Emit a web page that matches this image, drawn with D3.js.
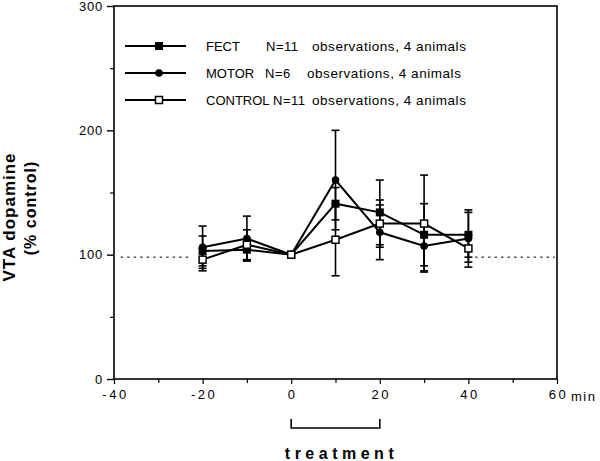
<!DOCTYPE html>
<html>
<head>
<meta charset="utf-8">
<script src="https://cdn.jsdelivr.net/npm/d3@7"></script>
<style>
  body { margin: 0; background: #fff; }
  svg { font-family: "Liberation Sans", Arial, sans-serif; }
</style>
</head>
<body>
<div id="chart"></div>
<script>
// values
const times = [-20, -10, 0, 10, 20, 30, 40];
const fectMean = [103, 104, 100, 141, 134, 116, 116];
const fectErr = [12, 9, 0, 13, 26, 25, 18];
const motorMean = [106, 113, 100, 160, 118, 107, 113];
const motorErr = [17, 18, 0, 40, 22, 20, 23];
const controlMean = [96, 108, 100, 112, 125, 125, 105];
const controlErr = [9, 12, 0, 29, 19, 39, 11];
const xTicks = [-40, -20, 0, 20, 40, 60];
const xMinor = [-30, -10, 10, 30, 50];
const yTicks = [0, 100, 200, 300];
const yMinor = [50, 150, 250];
const baseline = 98;

const series = [
  { name: "FECT", n: "N=11", nX: 266, obsX: 312, mean: fectMean, err: fectErr, marker: "fsquare" },
  { name: "MOTOR", n: "N=6", nX: 265, obsX: 307, mean: motorMean, err: motorErr, marker: "circle" },
  { name: "CONTROL", n: "N=11", nX: 273, obsX: 312, mean: controlMean, err: controlErr, marker: "osquare" }
];

const W = 600, H = 461;
const svg = d3.select("#chart").append("svg").attr("width", W).attr("height", H);

const x = d3.scaleLinear().domain([-40, 60]).range([114, 557]);
const y = d3.scaleLinear().domain([0, 300]).range([379, 6]);

// frame
svg.append("rect")
  .attr("x", x(-40)).attr("y", y(300))
  .attr("width", x(60) - x(-40)).attr("height", y(0) - y(300))
  .attr("fill", "none").attr("stroke", "#000").attr("stroke-width", 1.6);

// y axis
const yAxis = svg.append("g").attr("transform", `translate(${x(-40)},0)`)
  .call(d3.axisLeft(y).tickValues(yTicks).tickSize(7).tickPadding(4));
yAxis.select(".domain").remove();
yAxis.selectAll("line").attr("stroke-width", 1.4);
yAxis.selectAll("text").style("font-size", "13px").style("letter-spacing", "0.8px").attr("fill", "#000");
svg.append("g").attr("transform", `translate(${x(-40)},0)`)
  .call(d3.axisLeft(y).tickValues(yMinor).tickSize(4).tickFormat(""))
  .call(g => g.select(".domain").remove())
  .selectAll("line").attr("stroke-width", 1.2);

// x axis
const xAxis = svg.append("g").attr("transform", `translate(0,${y(0)})`)
  .call(d3.axisBottom(x).tickValues(xTicks).tickSize(5).tickPadding(6).tickFormat(d => String(d)));
xAxis.select(".domain").remove();
xAxis.selectAll("line").attr("stroke-width", 1.2);
xAxis.selectAll("text").style("font-size", "13px").style("letter-spacing", "2.5px")
  .attr("dx", "1px").attr("fill", "#000");
svg.append("g").attr("transform", `translate(0,${y(0)})`)
  .call(d3.axisBottom(x).tickValues(xMinor).tickSize(4).tickFormat(""))
  .call(g => g.select(".domain").remove())
  .selectAll("line").attr("stroke-width", 1.2);

svg.append("text").attr("x", 571).attr("y", 401)
  .style("font-size", "13px").style("letter-spacing", "1.5px").text("min");

// axis title
const yt = svg.append("g").attr("transform", "translate(0,214) rotate(-90)");
yt.append("text").attr("x", -3).attr("y", 15).attr("text-anchor", "middle")
  .style("font-size", "17px").style("font-weight", "bold").style("letter-spacing", "1px").text("VTA  dopamine");
yt.append("text").attr("x", 6).attr("y", 36).attr("text-anchor", "middle")
  .style("font-size", "16px").style("font-weight", "bold").style("letter-spacing", "1px").text("(%  control)");

// dotted baseline
[[-38.5, -22.5], [41.5, 59.5]].forEach(([a, b]) => {
  svg.append("line")
    .attr("x1", x(a)).attr("x2", x(b)).attr("y1", y(baseline)).attr("y2", y(baseline))
    .attr("stroke", "#000").attr("stroke-width", 1).attr("stroke-dasharray", "2.5,4");
});

// lines
const line = d3.line().x((d, i) => x(times[i])).y(d => y(d));
series.forEach(s => {
  svg.append("path").attr("d", line(s.mean))
    .attr("fill", "none").attr("stroke", "#000").attr("stroke-width", 2);
});

// error bars
series.forEach(s => {
  const g = svg.append("g").attr("stroke", "#000").attr("stroke-width", 1.6);
  s.mean.forEach((m, i) => {
    if (!s.err[i]) return;
    const cx = x(times[i]);
    g.append("line").attr("x1", cx).attr("x2", cx)
      .attr("y1", y(m + s.err[i])).attr("y2", y(m - s.err[i]));
    [m + s.err[i], m - s.err[i]].forEach(v => {
      g.append("line").attr("x1", cx - 4).attr("x2", cx + 4)
        .attr("y1", y(v)).attr("y2", y(v));
    });
  });
});

function drawMarker(g, type, cx, cy) {
  if (type === "circle") {
    g.append("circle").attr("cx", cx).attr("cy", cy).attr("r", 3.8).attr("fill", "#000");
  } else if (type === "fsquare") {
    g.append("rect").attr("x", cx - 4).attr("y", cy - 4).attr("width", 8).attr("height", 8).attr("fill", "#000");
  } else {
    g.append("rect").attr("x", cx - 3.5).attr("y", cy - 3.5).attr("width", 7).attr("height", 7)
      .attr("fill", "#fff").attr("stroke", "#000").attr("stroke-width", 1.5);
  }
}

// markers
series.forEach(s => {
  const g = svg.append("g");
  s.mean.forEach((m, i) => drawMarker(g, s.marker, x(times[i]), y(m)));
});

// legend
const legendY = [46, 73, 100];
series.forEach((s, i) => {
  const ly = legendY[i];
  svg.append("line").attr("x1", 125).attr("x2", 186).attr("y1", ly).attr("y2", ly)
    .attr("stroke", "#000").attr("stroke-width", 2);
  drawMarker(svg, s.marker, 159, ly);
  const t = svg.append("g").style("font-size", "13px");
  t.append("text").attr("x", 206).attr("y", ly + 5).text(s.name);
  t.append("text").attr("x", s.nX).attr("y", ly + 5).style("letter-spacing", "0.5px").text(s.n);
  t.append("text").attr("x", s.obsX).attr("y", ly + 5).style("font-size", "13.5px")
    .style("letter-spacing", "0.55px").text("observations, 4 animals");
});

// treatment bracket
svg.append("path")
  .attr("d", `M${x(0)},419 V428 H${x(20)} V419`)
  .attr("fill", "none").attr("stroke", "#000").attr("stroke-width", 1.6);
svg.append("text").attr("x", (x(0) + x(20)) / 2 + 6).attr("y", 459).attr("text-anchor", "middle")
  .style("font-size", "16px").style("font-weight", "bold").style("letter-spacing", "4.5px").text("treatment");
</script>
</body>
</html>
